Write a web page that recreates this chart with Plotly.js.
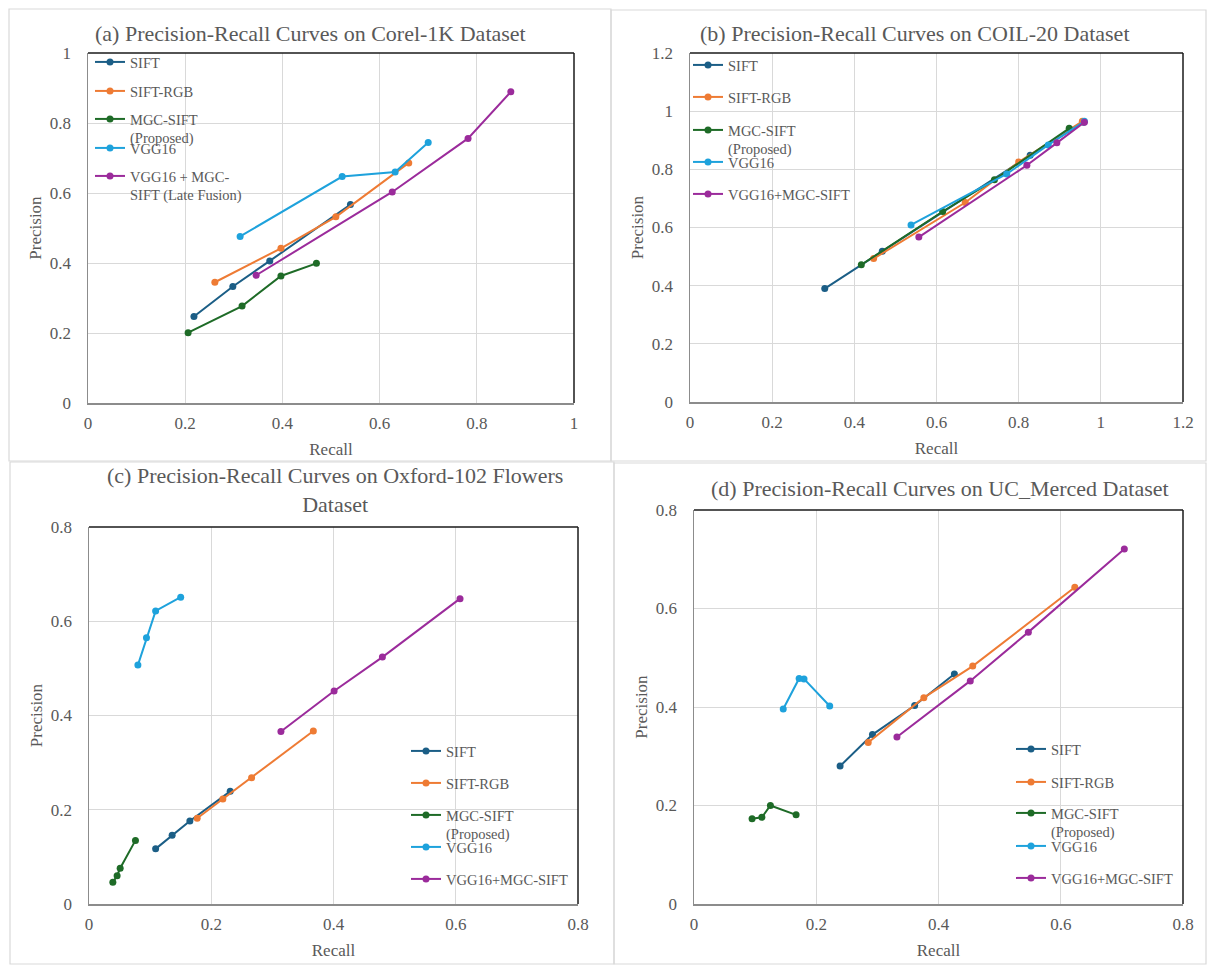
<!DOCTYPE html>
<html>
<head>
<meta charset="utf-8">
<script src="https://cdn.plot.ly/plotly-3.0.1.min.js"></script>
<style>html,body{margin:0;padding:0;background:#fff;}#chart{width:1207px;height:965px;}</style>
</head>
<body>
<div id="chart"></div>
<script>
// ---------- DATA ----------
const seriesNames = ["SIFT", "SIFT-RGB", "MGC-SIFT<br>(Proposed)", "VGG16", "VGG16+MGC-SIFT"];
const fusionNameA = "VGG16 + MGC-<br>SIFT (Late Fusion)";

const panelTitles = [
  "(a) Precision-Recall Curves on Corel-1K Dataset",
  "(b) Precision-Recall Curves on COIL-20 Dataset",
  "(c) Precision-Recall Curves on Oxford-102 Flowers<br>Dataset",
  "(d) Precision-Recall Curves on UC_Merced Dataset"
];

// (a) Corel-1K
const a_sift_recall = [0.218, 0.298, 0.374, 0.540];
const a_sift_precision = [0.247, 0.333, 0.406, 0.567];
const a_rgb_recall = [0.261, 0.397, 0.510, 0.660];
const a_rgb_precision = [0.345, 0.442, 0.532, 0.686];
const a_mgc_recall = [0.206, 0.317, 0.397, 0.470];
const a_mgc_precision = [0.201, 0.277, 0.363, 0.399];
const a_vgg_recall = [0.313, 0.523, 0.632, 0.700];
const a_vgg_precision = [0.476, 0.647, 0.660, 0.744];
const a_fusion_recall = [0.346, 0.626, 0.782, 0.870];
const a_fusion_precision = [0.365, 0.603, 0.756, 0.889];

// (b) COIL-20
const b_sift_recall = [0.328, 0.468, 0.828, 0.958];
const b_sift_precision = [0.390, 0.518, 0.848, 0.962];
const b_rgb_recall = [0.447, 0.670, 0.800, 0.955];
const b_rgb_precision = [0.493, 0.686, 0.825, 0.965];
const b_mgc_recall = [0.417, 0.615, 0.741, 0.923];
const b_mgc_precision = [0.472, 0.655, 0.764, 0.941];
const b_vgg_recall = [0.538, 0.771, 0.872, 0.960];
const b_vgg_precision = [0.609, 0.784, 0.884, 0.965];
const b_fusion_recall = [0.557, 0.820, 0.893, 0.960];
const b_fusion_precision = [0.567, 0.814, 0.891, 0.962];

// (c) Oxford-102 Flowers
const c_sift_recall = [0.109, 0.136, 0.165, 0.231];
const c_sift_precision = [0.117, 0.146, 0.176, 0.239];
const c_rgb_recall = [0.177, 0.219, 0.266, 0.367];
const c_rgb_precision = [0.182, 0.223, 0.268, 0.367];
const c_mgc_recall = [0.039, 0.046, 0.051, 0.076];
const c_mgc_precision = [0.046, 0.060, 0.076, 0.135];
const c_vgg_recall = [0.080, 0.094, 0.109, 0.150];
const c_vgg_precision = [0.507, 0.565, 0.622, 0.651];
const c_fusion_recall = [0.314, 0.401, 0.480, 0.607];
const c_fusion_precision = [0.366, 0.452, 0.524, 0.648];

// (d) UC_Merced
const d_sift_recall = [0.239, 0.292, 0.361, 0.426];
const d_sift_precision = [0.280, 0.344, 0.403, 0.467];
const d_rgb_recall = [0.285, 0.376, 0.456, 0.623];
const d_rgb_precision = [0.328, 0.419, 0.483, 0.643];
const d_mgc_recall = [0.095, 0.111, 0.125, 0.167];
const d_mgc_precision = [0.173, 0.176, 0.200, 0.181];
const d_vgg_recall = [0.146, 0.172, 0.180, 0.222];
const d_vgg_precision = [0.396, 0.458, 0.457, 0.402];
const d_fusion_recall = [0.332, 0.452, 0.547, 0.704];
const d_fusion_precision = [0.339, 0.453, 0.552, 0.721];

const axisMaxX = [1, 1.2, 0.8, 0.8];
const axisMaxY = [1, 1.2, 0.8, 0.8];
const colors = ["#1b5e86", "#ee7b34", "#1e6b27", "#1ea2dc", "#9b2b9b"];

// ---------- LAYOUT HELPERS ----------
const W = 1207, H = 965;
const px = v => v / W;
const py = v => 1 - v / H;
const serif = "'Liberation Serif', 'Times New Roman', serif";
const textGrey = "#595959";

// plot-area pixel boxes [left, right, top, bottom]
const boxes = [
  [88, 574, 53, 403],
  [690, 1183, 53, 402],
  [89, 578, 527, 904],
  [694, 1183, 510, 904]
];
// legend first-line centres (px) and text start x
const legendY = [
  [63, 92, 120, 149, 177],
  [66, 98, 131, 163, 195],
  [752, 784, 816, 848, 880],
  [750, 783, 814, 847, 879]
];
const legendTextX = [130, 728, 446, 1051];

const panels = [
  [[a_sift_recall, a_sift_precision], [a_rgb_recall, a_rgb_precision], [a_mgc_recall, a_mgc_precision], [a_vgg_recall, a_vgg_precision], [a_fusion_recall, a_fusion_precision]],
  [[b_sift_recall, b_sift_precision], [b_rgb_recall, b_rgb_precision], [b_mgc_recall, b_mgc_precision], [b_vgg_recall, b_vgg_precision], [b_fusion_recall, b_fusion_precision]],
  [[c_sift_recall, c_sift_precision], [c_rgb_recall, c_rgb_precision], [c_mgc_recall, c_mgc_precision], [c_vgg_recall, c_vgg_precision], [c_fusion_recall, c_fusion_precision]],
  [[d_sift_recall, d_sift_precision], [d_rgb_recall, d_rgb_precision], [d_mgc_recall, d_mgc_precision], [d_vgg_recall, d_vgg_precision], [d_fusion_recall, d_fusion_precision]]
];

const traces = [];
const layout = {
  width: W, height: H,
  margin: {l: 0, r: 0, t: 0, b: 0},
  paper_bgcolor: "#ffffff",
  plot_bgcolor: "#ffffff",
  font: {family: serif, color: textGrey, size: 16},
  showlegend: true,
  annotations: [],
  shapes: []
};

// chart-area borders of the four panels
const panelBorders = [[9, 611, 9, 461], [611, 1206, 10, 461], [10, 614, 462, 964], [614, 1206, 463, 964]];
panelBorders.forEach(b => {
  layout.shapes.push({type: "rect", xref: "paper", yref: "paper",
    x0: px(b[0]), x1: px(b[1]), y0: py(b[3]), y1: py(b[2]),
    line: {color: "#d9d9d9", width: 1.2}, fillcolor: "rgba(0,0,0,0)", layer: "below"});
});

let legendCount = 0;
panels.forEach((series, p) => {
  const sfx = p === 0 ? "" : String(p + 1);
  const box = boxes[p];
  const xa = "xaxis" + sfx, ya = "yaxis" + sfx;
  const common = {
    showgrid: true, gridcolor: "#d9d9d9", gridwidth: 1,
    zeroline: false, showline: true, linecolor: "#8c8c8c", linewidth: 1.5,
    ticks: "", tickfont: {family: serif, size: 17, color: textGrey},
    fixedrange: true, automargin: false
  };
  layout[xa] = Object.assign({}, common, {
    domain: [px(box[0]), px(box[1])], anchor: "y" + sfx,
    range: [0, axisMaxX[p]], dtick: 0.2, tick0: 0, ticklabelstandoff: 4,
    title: {text: "Recall", font: {family: serif, size: 17, color: textGrey}, standoff: 11}
  });
  layout[ya] = Object.assign({}, common, {
    domain: [py(box[3]), py(box[2])], anchor: "x" + sfx,
    range: [0, axisMaxY[p]], dtick: 0.2, tick0: 0, ticklabelstandoff: 12,
    title: {text: "Precision", font: {family: serif, size: 17, color: textGrey}, standoff: 4}
  });
  // dark top & right border of the plot area
  layout.shapes.push({type: "line", xref: "x" + sfx + " domain", yref: "y" + sfx + " domain",
    x0: 0, x1: 1, y0: 1, y1: 1, line: {color: "#1a1a1a", width: 1.5}});
  layout.shapes.push({type: "line", xref: "x" + sfx + " domain", yref: "y" + sfx + " domain",
    x0: 1, x1: 1, y0: 0, y1: 1, line: {color: "#1a1a1a", width: 1.5}});

  series.forEach((s, i) => {
    legendCount++;
    const lid = legendCount === 1 ? "legend" : "legend" + legendCount;
    const name = (p === 0 && i === 4) ? fusionNameA : seriesNames[i];
    traces.push({
      type: "scatter", mode: "lines+markers",
      x: s[0], y: s[1], name: name,
      xaxis: "x" + sfx, yaxis: "y" + sfx,
      legend: lid,
      line: {color: colors[i], width: 2},
      marker: {color: colors[i], size: 7}
    });
    layout[lid] = {
      x: px(legendTextX[p] - 40), y: py(legendY[p][i] - 17),
      xanchor: "left", yanchor: "top",
      bgcolor: "rgba(0,0,0,0)", borderwidth: 0,
      valign: "top", itemwidth: 30,
      font: {family: serif, size: 14.5, color: textGrey}
    };
  });
});

// panel titles
const titlePos = [[310, 33], [915, 33], [335, 490], [940, 488]];
panelTitles.forEach((t, p) => {
  layout.annotations.push({text: t, xref: "paper", yref: "paper",
    x: px(titlePos[p][0]), y: py(titlePos[p][1]), xanchor: "center", yanchor: "middle",
    showarrow: false, font: {family: serif, size: 22, color: textGrey}});
});

Plotly.newPlot("chart", traces, layout, {displayModeBar: false, staticPlot: true});
</script>
</body>
</html>
